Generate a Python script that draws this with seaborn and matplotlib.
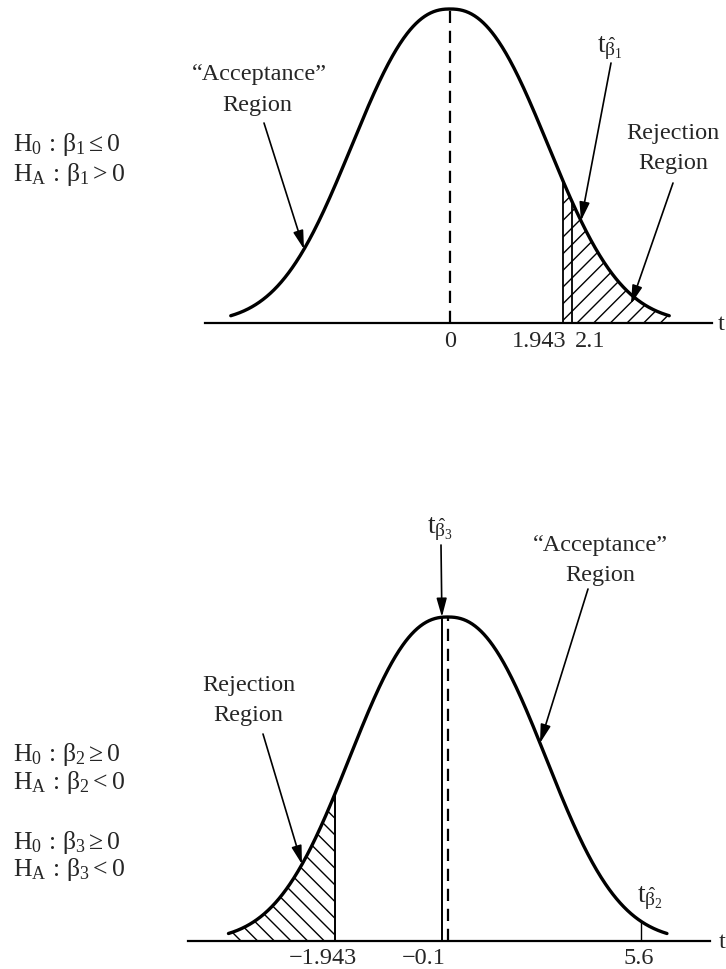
import numpy as np
import pandas as pd
import seaborn as sns
import matplotlib
matplotlib.use("Agg")
import matplotlib.pyplot as plt

# ---------------- data ----------------
# upper panel (one-sided test, H_A: beta1 > 0)
top_center = 0.0
top_critical = 1.943
top_t_stat = 2.1
top_tick_values = [0.0, 1.943, 2.1]
top_tick_labels = ["0", "1.943", "2.1"]

# lower panel (one-sided tests, H_A: beta < 0)
bot_center = 0.0
bot_critical = -1.943
bot_t_beta3 = -0.1
bot_t_beta2 = 5.6
bot_tick_values = [-1.943, -0.1, 5.6]
bot_tick_labels = ["\u22121.943", "\u22120.1", "5.6"]

# schematic bell shape (t distribution sketch)
bell_scale = 2.15
bell_power = 2.35
bell_half_range = 3.78
positive_compress = 0.595   # lower axis is not to scale on the positive side

W, H = 726, 970
sns.set_theme(style="white")
plt.rcParams["font.family"] = ["Liberation Serif", "DejaVu Serif"]
plt.rcParams["mathtext.fontset"] = "custom"
plt.rcParams["mathtext.rm"] = "Liberation Serif"
plt.rcParams["mathtext.it"] = "Liberation Serif:italic"
plt.rcParams["mathtext.bf"] = "Liberation Serif:bold"
plt.rcParams["hatch.linewidth"] = 1.0
plt.rcParams["hatch.color"] = "black"

FS = 17.5
FS_H = 18.5
FS_T = 20
fig = plt.figure(figsize=(W / 100, H / 100), dpi=100)
fig.patch.set_facecolor("white")

ARROW = dict(arrowstyle="-|>,head_length=0.8,head_width=0.22", mutation_scale=14,
             lw=1.2, color="black", shrinkA=0, shrinkB=0)


def style_axis(ax):
    for s in ["top", "left", "right"]:
        ax.spines[s].set_visible(False)
    ax.spines["bottom"].set_linewidth(1.6)
    ax.spines["bottom"].set_color("black")
    ax.set_xticks([])
    ax.set_yticks([])
    ax.set_facecolor("none")
    ax.set_xlabel("")
    ax.set_ylabel("")


def bell(u):
    return np.exp(-np.abs(np.asarray(u, dtype=float) / bell_scale) ** bell_power)


def ftext(x, y, s, ha="center", size=FS):
    fig.text(x / W, 1 - y / H, s, ha=ha, va="center", fontsize=size)


def arrow_fig(x0, y0, x1, y1):
    fig.add_artist(matplotlib.patches.FancyArrowPatch(
        posA=(x0, H - y0), posB=(x1, H - y1), transform=None, **ARROW))


def arrow_to_curve(ax, x0, y0, t, height):
    ax.annotate("", xy=(t, height), xycoords="data", xytext=(x0, H - y0),
                textcoords="figure pixels", arrowprops=ARROW,
                annotation_clip=False)


# ---------------- upper panel ----------------
px_unit = 58.0
base1, peak1, cx1 = 324, 10, 450
ax1 = fig.add_axes([205 / W, 1 - base1 / H, (712 - 205) / W, base1 / H])
u1 = np.linspace(-bell_half_range, bell_half_range, 600)
d1 = bell(u1)
df1 = pd.DataFrame({"t": u1, "density": d1})
sns.lineplot(data=df1, x="t", y="density", ax=ax1, color="black", lw=2.4,
             clip_on=False)
m1 = u1 >= top_critical
ax1.fill_between(u1[m1], 0, d1[m1], facecolor="none", edgecolor="black",
                 hatch="//", linewidth=0)
ax1.vlines([top_critical, top_t_stat], 0,
           [bell(top_critical), bell(top_t_stat)], color="black", lw=1.3)
ax1.vlines(top_center, 0, 1.0, color="black", lw=1.6,
           linestyles=(0, (5.5, 3.5)))
ax1.set_xlim((205 - cx1) / px_unit, (712 - cx1) / px_unit)
ax1.set_ylim(0, base1 / (base1 - peak1))
style_axis(ax1)

tick_align1 = [("center", 0), ("right", 4), ("left", 3)]
for v, lab, (ha, dx) in zip(top_tick_values, top_tick_labels, tick_align1):
    ax1.annotate(lab, xy=(v, 0), xycoords="data", xytext=(dx, -7),
                 textcoords="offset pixels", ha=ha, va="top", fontsize=FS)
fig.text(721 / W, 1 - (base1 + 1) / H, "t", ha="center", va="center", fontsize=FS)

# ---------------- lower panel ----------------
k = positive_compress


def fwd(x):
    x = np.asarray(x, dtype=float)
    return np.where(x < 0, x, x * k)


def inv(y):
    y = np.asarray(y, dtype=float)
    return np.where(y < 0, y, y / k)


base2, peak2, cx2 = 942, 618, 447.7
top2 = 596
ax2 = fig.add_axes([188 / W, 1 - base2 / H, (710 - 188) / W, (base2 - top2) / H])
ax2.set_xscale("function", functions=(fwd, inv))
u2 = np.linspace(-bell_half_range, bell_half_range, 600)
t2 = inv(u2)
d2 = bell(u2)
df2 = pd.DataFrame({"t": t2, "density": d2})
sns.lineplot(data=df2, x="t", y="density", ax=ax2, color="black", lw=2.4,
             clip_on=False)
m2 = t2 <= bot_critical
ax2.fill_between(t2[m2], 0, d2[m2], facecolor="none", edgecolor="black",
                 hatch="\\\\", linewidth=0)
ax2.vlines([bot_critical, bot_t_beta3], 0,
           [bell(fwd(bot_critical)), bell(fwd(bot_t_beta3))], color="black", lw=1.4)
ax2.vlines(bot_t_beta2, 0, bell(fwd(bot_t_beta2)), color="black", lw=1.0)
ax2.vlines(bot_center, 0, 1.0, color="black", lw=1.6,
           linestyles=(0, (5.5, 3.5)))
ax2.set_xlim((188 - cx2) / px_unit, float(inv((710 - cx2) / px_unit)))
ax2.set_ylim(0, (base2 - top2) / (base2 - peak2))
style_axis(ax2)

tick_align2 = [("center", -12), ("right", 4), ("center", -2)]
for v, lab, (ha, dx) in zip(bot_tick_values, bot_tick_labels, tick_align2):
    ax2.annotate(lab, xy=(v, 0), xycoords="data", xytext=(dx, -6),
                 textcoords="offset pixels", ha=ha, va="top", fontsize=FS)
fig.text(722 / W, 1 - (base2 + 1) / H, "t", ha="center", va="center", fontsize=FS)

# ---------------- text labels ----------------
# upper panel annotations
ftext(259, 75, "\u201cAcceptance\u201d")
ftext(257, 105, "Region")
acc1_t = (304 - cx1) / px_unit
arrow_to_curve(ax1, 264, 124, acc1_t, bell(acc1_t))
ftext(610, 48, r"$\mathrm{t}_{\hat{\mathrm{\beta}}_1}$", size=FS_T)
tb1_t = (581 - cx1) / px_unit
arrow_to_curve(ax1, 611, 64, tb1_t, bell(tb1_t))
ftext(673, 134, "Rejection")
ftext(673, 164, "Region")
arrow_fig(673, 184, 631, 305)

ftext(13, 145, r"$\mathrm{H}_0\,:\,\mathrm{\beta}_1 \leq 0$", ha="left", size=FS_H)
ftext(13, 175, r"$\mathrm{H}_\mathrm{A}\,:\,\mathrm{\beta}_1 > 0$", ha="left", size=FS_H)

# lower panel annotations
ftext(440, 529, r"$\mathrm{t}_{\hat{\mathrm{\beta}}_3}$", size=FS_T)
arrow_to_curve(ax2, 441, 546, bot_t_beta3, 1.0)
ftext(600, 545, "\u201cAcceptance\u201d")
ftext(600, 575, "Region")
acc2_u = (540 - cx2) / px_unit
arrow_to_curve(ax2, 588, 590, float(inv(acc2_u)), bell(acc2_u))
ftext(249, 685, "Rejection")
ftext(248, 715, "Region")
rej2_u = (302 - cx2) / px_unit
arrow_to_curve(ax2, 263, 735, float(inv(rej2_u)), bell(rej2_u))
ftext(650, 898, r"$\mathrm{t}_{\hat{\mathrm{\beta}}_2}$", size=FS_T)

ftext(13, 755, r"$\mathrm{H}_0\,:\,\mathrm{\beta}_2 \geq 0$", ha="left", size=FS_H)
ftext(13, 783, r"$\mathrm{H}_\mathrm{A}\,:\,\mathrm{\beta}_2 < 0$", ha="left", size=FS_H)
ftext(13, 843, r"$\mathrm{H}_0\,:\,\mathrm{\beta}_3 \geq 0$", ha="left", size=FS_H)
ftext(13, 870, r"$\mathrm{H}_\mathrm{A}\,:\,\mathrm{\beta}_3 < 0$", ha="left", size=FS_H)

fig.savefig("out.png", dpi=100, facecolor="white")
